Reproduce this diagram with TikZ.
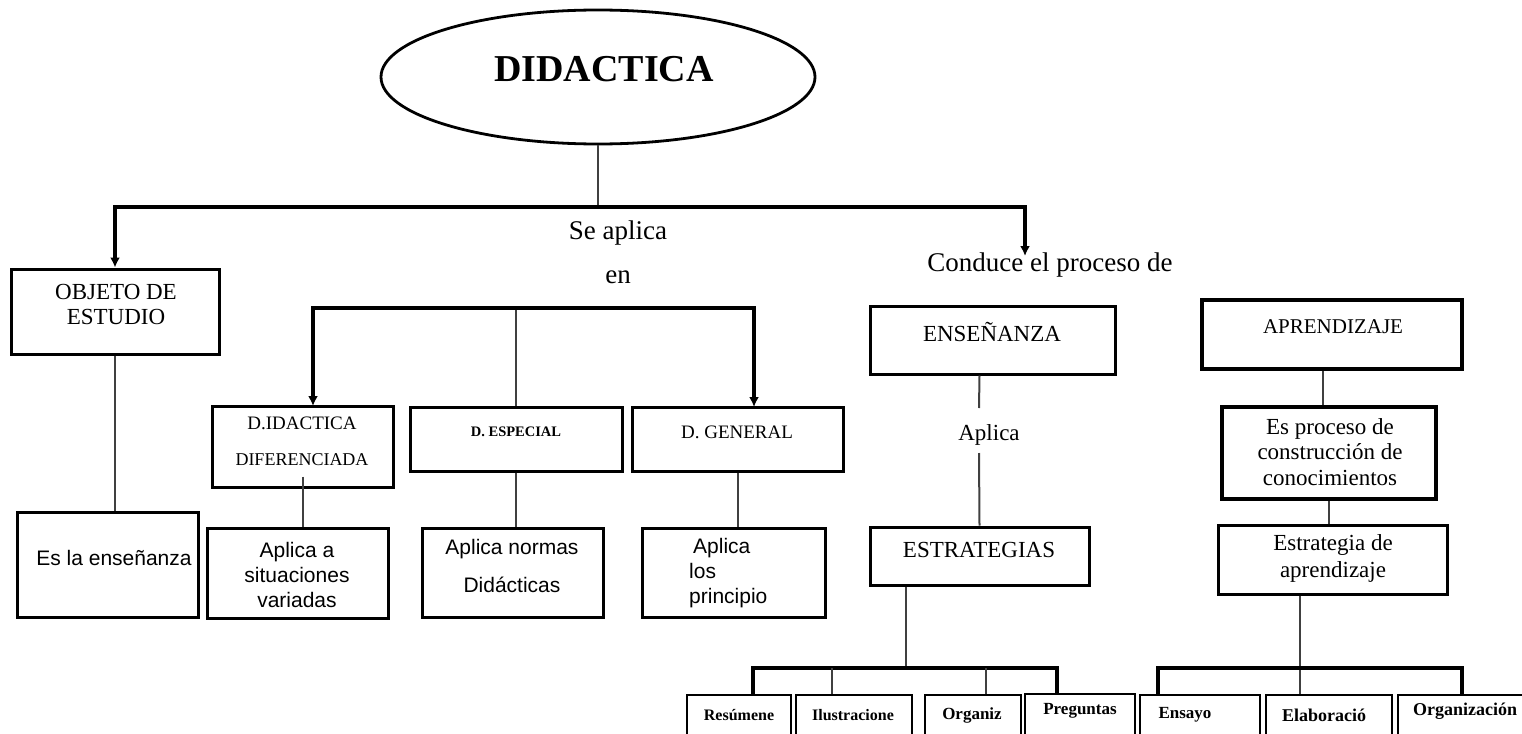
\documentclass[tikz,border=0pt]{standalone}
\usepackage{fontspec}
\setmainfont{Liberation Serif}
\newfontfamily\arialfam{Liberation Sans}
\usetikzlibrary{shapes.geometric,arrows.meta}
\newcommand{\letra}[2]{\fontsize{#1}{#2}\selectfont}

\begin{document}
\begin{tikzpicture}[x=1pt,y=-1pt,
  caja/.style={draw,line width=3pt},
  cajagruesa/.style={draw,line width=4.5pt},
  cajita/.style={draw,line width=1.3pt,minimum height=65},
  linea/.style={line width=2pt,black!75},
  barra/.style={line width=3.2pt},
  flecha/.style={line width=3.2pt,-{Latex[length=10pt,width=10pt]}},
  sans/.style={font=\arialfam\letra{21}{25}}]
\tikzstyle{every node}+=[inner sep=0pt]
\useasboundingbox (0,0) rectangle (1522,733);
\clip (0,0) rectangle (1522,733);

\node[draw,ellipse,line width=2.8pt,minimum width=434,minimum height=134] (didactica) at (598,77) {};
\node[font=\bfseries\letra{38}{40}] (didacticatxt) at (604,69) {DIDACTICA};
\node[font=\letra{27}{30}] (seaplica) at (618,233) {Se aplica};
\node[font=\letra{27}{30}] (en) at (618,277) {en};
\node[font=\letra{27}{30}] (conduce) at (1050,265) {Conduce el proceso de};

\node[caja,minimum width=208,minimum height=85] (objeto) at (115,311.5) {};
\node[font=\letra{23}{25},align=center] (objetotxt) at (116,304.5) {OBJETO DE\\ESTUDIO};
\node[caja,minimum width=181,minimum height=105] (esla) at (107.5,564.5) {};
\node[sans] (eslatxt) at (114,558) {Es la enseñanza};

\node[caja,minimum width=181,minimum height=81] (dif) at (302.5,446.5) {};
\node[font=\letra{19}{36},align=center] (diftxt) at (302,441) {D.IDACTICA\\{\letra{18}{36}DIFERENCIADA}};
\node[caja,minimum width=181,minimum height=90] (sit) at (297.5,573) {};
\node[sans,align=center] (sittxt) at (297,575) {Aplica a\\situaciones\\variadas};

\node[caja,minimum width=212,minimum height=64] (especial) at (516,439) {};
\node[font=\bfseries\letra{14.5}{16}] (especialtxt) at (516,432) {D. ESPECIAL};
\node[caja,minimum width=181,minimum height=89] (normas) at (512.5,572.5) {};
\node[sans,font=\arialfam\letra{21}{38},align=center] (normastxt) at (512,566) {Aplica normas\\Didácticas};

\node[caja,minimum width=211,minimum height=64] (general) at (737.5,439) {};
\node[font=\letra{19}{21}] (generaltxt) at (737,432) {D. GENERAL};
\node[caja,minimum width=183,minimum height=89] (principio) at (733.5,572.5) {};
\node[sans,align=left,anchor=west] (principiotxt) at (689,573) {\hspace{4pt}Aplica\\los\\principio};

\node[caja,minimum width=245,minimum height=68] (ensenanza) at (992.5,340) {};
\node[font=\letra{23}{25}] (ensenanzatxt) at (992,332) {ENSEÑANZA};
\node[font=\letra{23}{25}] (aplica) at (989,435) {Aplica};
\node[caja,minimum width=219,minimum height=58] (estrategias) at (979.5,556) {};
\node[font=\letra{23}{25}] (estrategiastxt) at (979,550) {ESTRATEGIAS};

\node[cajagruesa,minimum width=260,minimum height=69] (aprendizaje) at (1332,334.5) {};
\node[font=\letra{21}{23}] (aprendizajetxt) at (1333,327) {APRENDIZAJE};
\node[cajagruesa,minimum width=214,minimum height=92] (proceso) at (1329,453) {};
\node[font=\letra{23}{25.5},align=center] (procesotxt) at (1330,452) {Es proceso de\\construcción de\\conocimientos};
\node[caja,minimum width=229,minimum height=69] (estrategia) at (1332.5,559.5) {};
\node[font=\letra{23}{27},align=center] (estrategiatxt) at (1333,558) {Estrategia de\\aprendizaje};

\node[cajita,minimum width=104] (resumene) at (739,727.5) {};
\node[font=\bfseries\letra{16}{18}] (resumenetxt) at (739,715) {Resúmene};
\node[cajita,minimum width=116] (ilustracione) at (854,727.5) {};
\node[font=\bfseries\letra{16}{18}] (ilustracionetxt) at (853,715) {Ilustracione};
\node[cajita,minimum width=96] (organiz) at (973,727.5) {};
\node[font=\bfseries\letra{17}{18}] (organiztxt) at (972,715) {Organiz};
\node[cajita,minimum width=110] (preguntas) at (1080,726.5) {};
\node[font=\bfseries\letra{17}{18}] (preguntastxt) at (1080,711) {Preguntas};
\node[cajita,minimum width=120] (ensayo) at (1200,727.5) {};
\node[font=\bfseries\letra{17}{18}] (ensayotxt) at (1185,715) {Ensayo};
\node[cajita,minimum width=126] (elaboracio) at (1329,727.5) {};
\node[font=\bfseries\letra{18}{18}] (elaboraciotxt) at (1324,715) {Elaboració};
\node[cajita,minimum width=130] (organizacion) at (1463,727.5) {};
\node[font=\bfseries\letra{18}{18}] (organizaciontxt) at (1465,711) {Organización};

\coordinate (raiz) at (598,207);
\coordinate (conducepunta) at (1025,256);
\coordinate (rama) at (516,308);
\coordinate (difpunta) at (313,406);
\coordinate (generalpunta) at (754,407);
\coordinate (aplicaarriba) at (979,408);
\coordinate (aplicaabajo) at (979,453);
\coordinate (barra1) at (906,668);
\coordinate (barra2) at (1300,668);

\draw[linea] (didactica.south) -- (raiz);
\draw[flecha] (raiz) -| (objeto.north);
\draw[flecha] (raiz) -| (conducepunta);
\draw[linea] (objeto.south) -- (objeto.south |- esla.north);

\draw[linea] (rama) -- (especial.north);
\draw[flecha] (rama) -| (difpunta);
\draw[flecha] (rama) -| (generalpunta);
\draw[linea] ([yshift=12pt]dif.south) -- (dif.south |- sit.north);
\draw[linea] (especial.south) -- (especial.south |- normas.north);
\draw[linea] (general.south) -- (general.south |- principio.north);

\draw[linea] (estrategias.north |- ensenanza.south) -- (aplicaarriba);
\draw[linea] (aplicaabajo) -- (estrategias.north);
\draw[linea] (estrategias.south -| barra1) -- (barra1);
\draw[barra] ([xshift=14pt]resumene.north) |- (barra1) -| ([xshift=-23pt]preguntas.north);
\draw[linea] ([xshift=-22pt]ilustracione.north) -- ([xshift=-22pt]ilustracione.north |- barra1);
\draw[linea] ([xshift=13pt]organiz.north) -- ([xshift=13pt]organiz.north |- barra1);

\draw[linea] ([xshift=-9pt]aprendizaje.south) -- ([xshift=-9pt]aprendizaje.south |- proceso.north);
\draw[linea] (proceso.south) -- (proceso.south |- estrategia.north);
\draw[linea] (estrategia.south -| barra2) -- (elaboracio.north -| barra2);
\draw[barra] ([xshift=-42pt]ensayo.north) |- (barra2) -| ([xshift=-1pt]organizacion.north);
\end{tikzpicture}
\end{document}
